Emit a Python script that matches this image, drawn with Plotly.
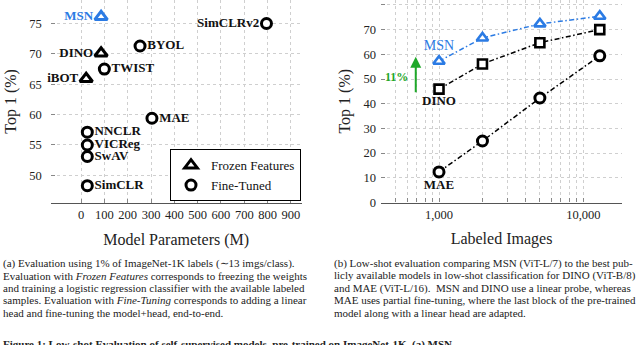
import plotly.graph_objects as go
import math

# ---------------- data: left panel ----------------
msn_params = [86]
msn_top1 = [76.1]

frozen_names = ["DINO", "iBOT"]
frozen_params = [86, 22]
frozen_top1 = [70.1, 65.9]
frozen_pos = ["middle left", "middle left"]

ft_names = ["SimCLRv2", "BYOL", "TWIST", "MAE", "NNCLR", "VICReg", "SwAV", "SimCLR"]
ft_params = [795, 253, 100, 304, 27, 27, 27, 27]
ft_top1 = [75.0, 71.3, 67.5, 59.4, 57.1, 55.0, 53.1, 48.3]
ft_pos = ["middle left", "middle right", "middle right", "middle right",
          "middle right", "middle right", "middle right", "middle right"]

left_xticks = [0, 100, 200, 300, 400, 500, 600, 700, 800, 900]
left_yticks = [50, 55, 60, 65, 70, 75]

# ---------------- data: right panel ----------------
labeled = [1000, 2000, 5000, 13000]
msn_low = [57.2, 66.6, 72.3, 75.4]
dino_low = [45.9, 56.1, 64.7, 70.0]
mae_low = [12.4, 24.9, 42.3, 59.4]
right_yticks = [0, 10, 20, 30, 40, 50, 60, 70, 80]
right_xticks = [1000, 10000]
right_xtick_text = ["1,000", "10,000"]
right_minor = [400, 500, 600, 700, 800, 900, 2000, 3000, 4000, 5000, 6000, 7000, 8000, 9000]
gain_label = "11%"
arrow_x = 690
arrow_from, arrow_to = 44, 59
gain_x, gain_y = 509, 50.7

caption_a = [
    "(a) Evaluation using 1% of ImageNet-1K labels (\u223c13 imgs/class).",
    "Evaluation with <i>Frozen Features</i> corresponds to freezing the weights",
    "and training a logistic regression classifier with the available labeled",
    "samples. Evaluation with <i>Fine-Tuning</i> corresponds to adding a linear",
    "head and fine-tuning the model+head, end-to-end.",
]
caption_b = [
    "(b) Low-shot evaluation comparing MSN (ViT-L/7) to the best pub-",
    "licly available models in low-shot classification for DINO (ViT-B/8)",
    "and MAE (ViT-L/16).  MSN and DINO use a linear probe, whereas",
    "MAE uses partial fine-tuning, where the last block of the pre-trained",
    "model along with a linear head are adapted.",
]
figure_caption = "Figure 1: Low-shot Evaluation of self-supervised models, pre-trained on ImageNet-1K. (a) MSN"

BLUE = "#2b7be4"
GREEN = "#1fa82a"
FONT = "Liberation Serif"
GRID = "#cfcfcf"
W, H = 640, 345

fig = go.Figure()

lbl = dict(family=FONT, size=13, color="#111", weight="bold")

# left panel
fig.add_trace(go.Scatter(
    x=frozen_params, y=frozen_top1, mode="markers+text", name="Frozen Features",
    text=frozen_names, textposition=frozen_pos, cliponaxis=False, textfont=lbl,
    marker=dict(symbol="triangle-up", size=11, color="white", line=dict(color="black", width=3)),
    xaxis="x", yaxis="y", showlegend=True))
fig.add_trace(go.Scatter(
    x=ft_params, y=ft_top1, mode="markers+text", name="Fine-Tuned",
    text=ft_names, textposition=ft_pos, cliponaxis=False, textfont=lbl,
    marker=dict(symbol="circle", size=10, color="white", line=dict(color="black", width=3)),
    xaxis="x", yaxis="y", showlegend=True))
fig.add_trace(go.Scatter(
    x=msn_params, y=msn_top1, mode="markers+text", name="MSN",
    text=["MSN"], textposition="middle left", cliponaxis=False,
    textfont=dict(lbl, color=BLUE),
    marker=dict(symbol="triangle-up", size=11, color="white", line=dict(color=BLUE, width=3)),
    xaxis="x", yaxis="y", showlegend=False))

# right panel
dash = "5px,2.5px,1.5px,2.5px"
fig.add_trace(go.Scatter(
    x=labeled, y=mae_low, mode="lines+markers+text", name="MAE",
    text=["MAE", "", "", ""], textposition="bottom center", cliponaxis=False, textfont=lbl,
    line=dict(color="black", width=1.5, dash=dash),
    marker=dict(symbol="circle", size=10, color="white", line=dict(color="black", width=3)),
    xaxis="x2", yaxis="y2", showlegend=False))
fig.add_trace(go.Scatter(
    x=labeled, y=dino_low, mode="lines+markers+text", name="DINO",
    text=["DINO", "", "", ""], textposition="bottom center", cliponaxis=False, textfont=lbl,
    line=dict(color="black", width=1.5, dash=dash),
    marker=dict(symbol="square", size=9, color="white", line=dict(color="black", width=2.6)),
    xaxis="x2", yaxis="y2", showlegend=False))
fig.add_trace(go.Scatter(
    x=labeled, y=msn_low, mode="lines+markers+text", name="MSN",
    text=["MSN", "", "", ""], textposition="top center", cliponaxis=False,
    textfont=dict(family=FONT, size=14, color=BLUE),
    line=dict(color=BLUE, width=1.5, dash=dash),
    marker=dict(symbol="triangle-up", size=10, color="white", line=dict(color=BLUE, width=2.6)),
    xaxis="x2", yaxis="y2", showlegend=False))

axis_common = dict(
    showgrid=True, gridcolor=GRID, griddash="dot", gridwidth=1,
    zeroline=False, ticks="inside", ticklen=4, tickcolor="#888",
    tickfont=dict(family=FONT, size=12.5, color="#222"),
)
title_font = dict(family=FONT, size=16, color="#222")

fig.update_layout(
    width=W, height=H,
    margin=dict(l=0, r=0, t=0, b=0),
    paper_bgcolor="white", plot_bgcolor="white",
    font=dict(family=FONT, color="#222"),
    hovermode=False,
    xaxis=dict(domain=[50.7 / W, 301.7 / W], range=[-130, 946],
               tickvals=left_xticks, showline=True, linecolor="#555", linewidth=1.3,
               title=dict(text="Model Parameters (M)", font=title_font, standoff=12),
               anchor="y", **axis_common),
    yaxis=dict(domain=[1 - 207 / H, 1], range=[45.48, 78.87],
               tickvals=left_yticks, showline=False, ticklabelstandoff=8,
               title=dict(text="Top 1 (%)", font=title_font, standoff=8),
               anchor="x", **axis_common),
    xaxis2=dict(domain=[381 / W, 622 / W], type="log", range=[2.598, 4.268],
                tickvals=right_xticks, ticktext=right_xtick_text,
                showline=True, linecolor="#555", linewidth=1.3,
                minor=dict(tickvals=right_minor, ticks="inside", ticklen=4, tickcolor="#888",
                           showgrid=True, gridcolor=GRID, griddash="dot", gridwidth=1),
                title=dict(text="Labeled Images", font=title_font, standoff=12),
                anchor="y2", **axis_common),
    yaxis2=dict(domain=[1 - 206.7 / H, 1], range=[0, 81.98],
                tickvals=right_yticks, showline=False, ticklabelstandoff=4,
                title=dict(text="Top 1 (%)", font=title_font, standoff=8),
                anchor="x2", **axis_common),
    legend=dict(x=301 / W, y=1 - 152.3 / H, xanchor="right", yanchor="top",
                bordercolor="black", borderwidth=1, bgcolor="white",
                font=dict(family=FONT, size=13, color="#111"),
                tracegroupgap=0, itemwidth=30),
)

# arrow + gain label
fig.add_annotation(x=math.log10(arrow_x), y=arrow_to, ax=math.log10(arrow_x), ay=arrow_from,
                   xref="x2", yref="y2", axref="x2", ayref="y2", text="",
                   showarrow=True, arrowhead=2, arrowsize=1.1, arrowwidth=2, arrowcolor=GREEN)
fig.add_annotation(x=math.log10(gain_x), y=gain_y, xref="x2", yref="y2", text="<b>" + gain_label + "</b>",
                   showarrow=False, font=dict(family=FONT, size=12, color=GREEN))

# captions
CAP = dict(family=FONT, size=11, color="#222")
line_y = [269, 281.5, 294, 306.5, 319]
for txt, yp in zip(caption_a, line_y):
    fig.add_annotation(x=1 / W, y=1 - yp / H, xref="paper", yref="paper", text=txt,
                       xanchor="left", yanchor="middle", showarrow=False, font=CAP)
for txt, yp in zip(caption_b, line_y):
    fig.add_annotation(x=331.5 / W, y=1 - yp / H, xref="paper", yref="paper", text=txt,
                       xanchor="left", yanchor="middle", showarrow=False, font=CAP)
fig.add_annotation(x=1 / W, y=1 - 342.5 / H, xref="paper", yref="paper", text="<b>" + figure_caption + "</b>",
                   xanchor="left", yanchor="top", showarrow=False, font=CAP)

fig.write_html("out.html", config={"displayModeBar": False},
               post_script="document.body.style.margin='0';")
